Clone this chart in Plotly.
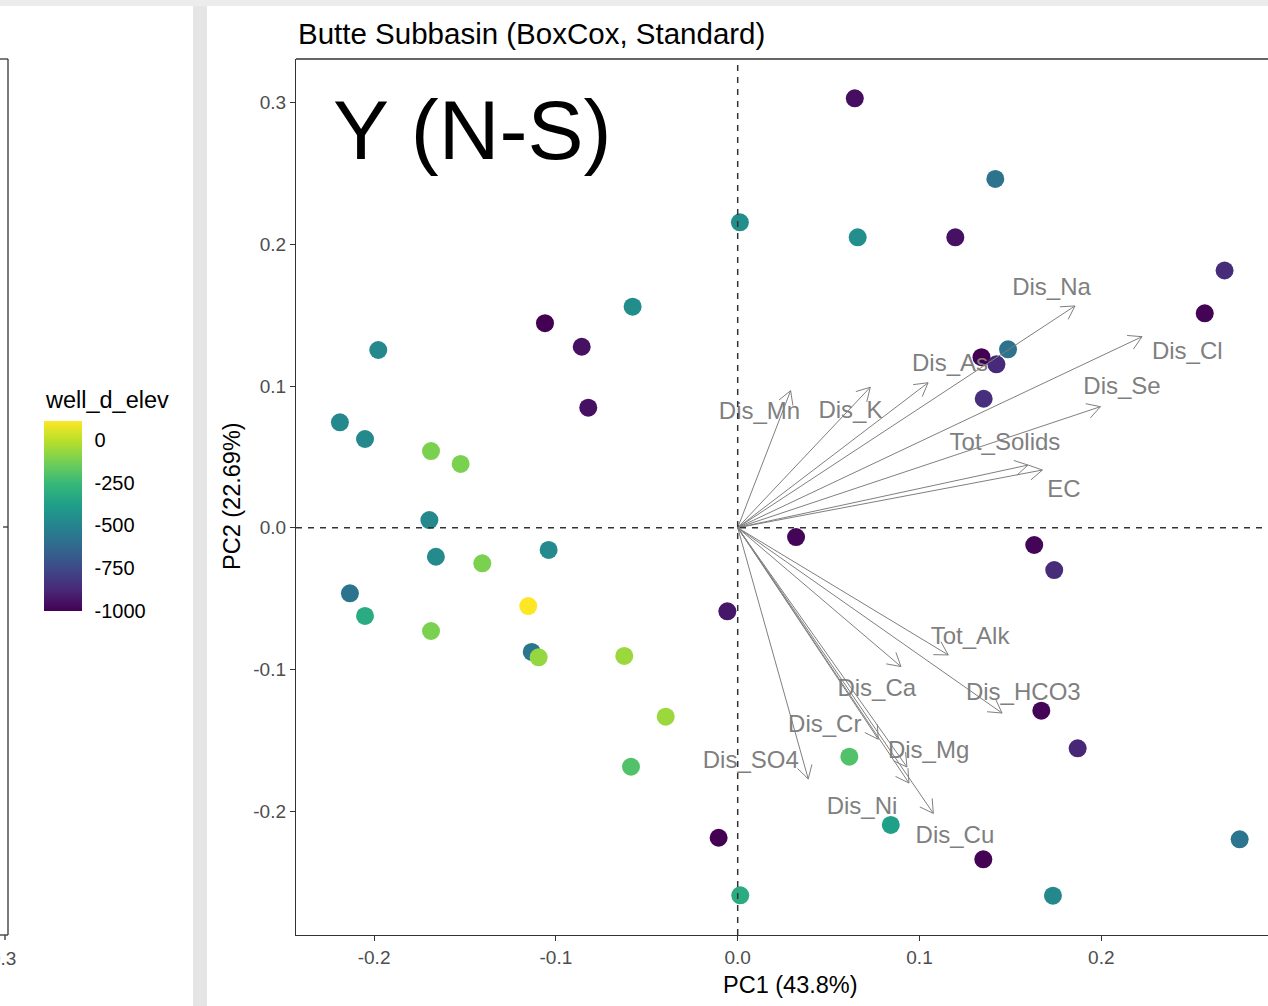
import numpy as np
import plotly.graph_objects as go

# ---- sample scores (PC1, PC2) and well depth elevation ----
pc1 = [0.0644, 0.1417, 0.0012, 0.0660, 0.1197, 0.2678, 0.2569, -0.0578, -0.1060, -0.0858,
       -0.1977, 0.1487, 0.1341, 0.1423, -0.0822, 0.1353, -0.2188, -0.2050, -0.1687, -0.1524,
       -0.1696, 0.0321, -0.1040, -0.1660, -0.1405, 0.1631, 0.1741, -0.2133, -0.2050, -0.1152,
       -0.0057, -0.1687, -0.1133, -0.1095, -0.0624, -0.0396, 0.1670, 0.1870, -0.0587, 0.0614,
       -0.0105, 0.0842, 0.1351, 0.0014, 0.1734, 0.2761]
pc2 = [0.3030, 0.2461, 0.2155, 0.2049, 0.2049, 0.1815, 0.1513, 0.1560, 0.1443, 0.1277,
       0.1254, 0.1259, 0.1203, 0.1153, 0.0847, 0.0910, 0.0744, 0.0626, 0.0541, 0.0450,
       0.0054, -0.0066, -0.0157, -0.0205, -0.0251, -0.0122, -0.0299, -0.0463, -0.0623, -0.0553,
       -0.0590, -0.0729, -0.0877, -0.0915, -0.0905, -0.1334, -0.1291, -0.1557, -0.1687, -0.1616,
       -0.2188, -0.2098, -0.2340, -0.2594, -0.2597, -0.2199]
well_d_elev = [-960, -580, -450, -450, -950, -860, -995, -460, -1000, -950,
               -480, -580, -1000, -870, -950, -850, -480, -480, -115, -115,
               -480, -990, -470, -470, -115, -990, -860, -575, -320, 110,
               -930, -115, -570, -70, -60, -60, -990, -880, -200, -200,
               -1000, -380, -995, -320, -480, -570]

# ---- variable loadings ----
var_names = ["Dis_Na", "Dis_Cl", "Dis_Se", "Tot_Solids", "EC", "Dis_As", "Dis_K", "Dis_Mn",
             "Tot_Alk", "Dis_Ca", "Dis_HCO3", "Dis_Cr", "Dis_Mg", "Dis_Ni", "Dis_Cu", "Dis_SO4"]
load_pc1 = [0.1855, 0.2224, 0.1995, 0.1597, 0.1676, 0.1047, 0.0729, 0.0291,
            0.1158, 0.0898, 0.1454, 0.0773, 0.0931, 0.0942, 0.1076, 0.0388]
load_pc2 = [0.1565, 0.1348, 0.0854, 0.0442, 0.0407, 0.1023, 0.0991, 0.0967,
            -0.0898, -0.0980, -0.1308, -0.1493, -0.1689, -0.1802, -0.2016, -0.1773]
# repelled label positions
label_pc1 = [0.1726, 0.2473, 0.2114, 0.1470, 0.1795, 0.1168, 0.0620, 0.0120,
             0.1278, 0.0765, 0.1571, 0.0479, 0.1050, 0.0684, 0.1195, 0.0072]
label_pc2 = [0.1685, 0.1231, 0.0986, 0.0591, 0.0259, 0.1148, 0.0820, 0.0809,
             -0.0781, -0.1145, -0.1176, -0.1399, -0.1581, -0.1980, -0.2181, -0.1651]

colorbar_ticks = [0, -250, -500, -750, -1000]
elev_min, elev_max = -1000, 110

# ---- page geometry ----
W, H = 1268, 1006
ML, MR, MT, MB = 296, 0, 59, 71
x_range = [-0.24296, 0.29169]
y_range = [-0.28744, 0.33077]
pw, ph = W - ML - MR, H - MT - MB
sx = pw / (x_range[1] - x_range[0])
sy = ph / (y_range[1] - y_range[0])


def paper_x(p):
    return (p - ML) / pw


def paper_y(p):
    return (H - MB - p) / ph


FONT = "Liberation Sans, Arial, sans-serif"
AXIS_COL = "#333333"
TICK_COL = "#4D4D4D"
ARROW_COL = "#7F7F7F"

# arrows from origin to each loading, with open V heads
ax, ay = [], []
head_len, head_ang = 15, np.radians(30)
for lx, ly in zip(load_pc1, load_pc2):
    ax += [0, lx, None]
    ay += [0, ly, None]
    theta = np.arctan2(ly * sy, lx * sx)
    arms = []
    for s in (1, -1):
        a = theta + np.pi + s * head_ang
        arms.append((lx + head_len * np.cos(a) / sx, ly + head_len * np.sin(a) / sy))
    ax += [arms[0][0], lx, arms[1][0], None]
    ay += [arms[0][1], ly, arms[1][1], None]

# colour bar geometry (pixels)
cb_left, cb_w, cb_top, cb_h = 44, 38, 421, 190
cb_tick = 7

fig = go.Figure()

fig.add_trace(go.Scatter(
    x=pc1, y=pc2, mode="markers",
    marker=dict(size=18, color=well_d_elev, colorscale="Viridis",
                cmin=elev_min, cmax=elev_max, line=dict(width=0),
                colorbar=dict(
                    thickness=cb_w, thicknessmode="pixels",
                    len=cb_h, lenmode="pixels",
                    x=paper_x(cb_left), xanchor="left",
                    y=paper_y(cb_top + cb_h / 2), yanchor="middle",
                    xpad=0, ypad=0, outlinewidth=0,
                    tickvals=colorbar_ticks, ticktext=[str(v) for v in colorbar_ticks],
                    ticks="outside", ticklen=9, tickwidth=1, tickcolor="white",
                    tickfont=dict(family=FONT, size=20, color="black"),
                )),
    showlegend=False, hoverinfo="skip"))

fig.add_trace(go.Scatter(
    x=ax, y=ay, mode="lines", line=dict(color=ARROW_COL, width=1),
    showlegend=False, hoverinfo="skip"))

fig.add_trace(go.Scatter(
    x=label_pc1, y=label_pc2, mode="text", text=var_names,
    textposition="middle center",
    textfont=dict(family=FONT, size=24, color=ARROW_COL),
    showlegend=False, hoverinfo="skip"))

shapes = []
# background bands between panels
shapes.append(dict(type="rect", xref="paper", yref="paper",
                   x0=paper_x(193), x1=paper_x(207), y0=paper_y(H), y1=paper_y(0),
                   fillcolor="#E5E5E5", line=dict(width=0), layer="below"))
shapes.append(dict(type="rect", xref="paper", yref="paper",
                   x0=paper_x(0), x1=paper_x(W), y0=paper_y(6), y1=paper_y(0),
                   fillcolor="#ECECEC", line=dict(width=0), layer="below"))
# neighbouring panel edge
for (x0, y0, x1, y1) in [(8, 59, 8, 935), (0, 59, 8, 59), (0, 935, 8, 935),
                         (5, 935, 5, 940), (3, 527, 8, 527)]:
    shapes.append(dict(type="line", xref="paper", yref="paper",
                       x0=paper_x(x0), x1=paper_x(x1), y0=paper_y(y0), y1=paper_y(y1),
                       line=dict(color=AXIS_COL, width=1.3)))
# top border of the main panel
shapes.append(dict(type="line", xref="paper", yref="paper", x0=0, x1=1, y0=1, y1=1,
                   line=dict(color=AXIS_COL, width=1.3)))
# dashed reference lines through the origin
shapes.append(dict(type="line", xref="paper", yref="y", x0=0, x1=1, y0=0, y1=0,
                   line=dict(color=AXIS_COL, width=1.5, dash="6px,6px"), layer="above"))
shapes.append(dict(type="line", xref="x", yref="paper", x0=0, x1=0, y0=0, y1=1,
                   line=dict(color=AXIS_COL, width=1.5, dash="6px,6px"), layer="above"))
# white ticks on both edges of the colour bar
for v in colorbar_ticks:
    py = cb_top + cb_h - (v - elev_min) / (elev_max - elev_min) * cb_h
    for (a, b) in [(cb_left, cb_left + cb_tick), (cb_left + cb_w - cb_tick, cb_left + cb_w)]:
        shapes.append(dict(type="line", xref="paper", yref="paper",
                           x0=paper_x(a), x1=paper_x(b),
                           y0=paper_y(py), y1=paper_y(py),
                           line=dict(color="white", width=1.5), layer="above"))

annotations = [
    dict(text="Butte Subbasin (BoxCox, Standard)", xref="paper", yref="paper",
         x=paper_x(296), y=paper_y(33), xanchor="left", yanchor="middle",
         showarrow=False, font=dict(family=FONT, size=29.5, color="black")),
    dict(text="Y (N-S)", xref="paper", yref="paper",
         x=paper_x(331), y=paper_y(130), xanchor="left", yanchor="middle",
         showarrow=False, font=dict(family=FONT, size=84, color="black")),
    dict(text="PC1 (43.8%)", xref="paper", yref="paper",
         x=paper_x(790), y=paper_y(985), xanchor="center", yanchor="middle",
         showarrow=False, font=dict(family=FONT, size=23.5, color="black")),
    dict(text="PC2 (22.69%)", xref="paper", yref="paper", textangle=-90,
         x=paper_x(232), y=paper_y(496), xanchor="center", yanchor="middle",
         showarrow=False, font=dict(family=FONT, size=23.5, color="black")),
    dict(text="well_d_elev", xref="paper", yref="paper",
         x=paper_x(43), y=paper_y(400), xanchor="left", yanchor="middle",
         showarrow=False, font=dict(family=FONT, size=23.5, color="black")),
    dict(text="0.3", xref="paper", yref="paper",
         x=paper_x(3), y=paper_y(958), xanchor="center", yanchor="middle",
         showarrow=False, font=dict(family=FONT, size=19, color=TICK_COL)),
    dict(text="0.3", xref="paper", yref="paper",
         x=paper_x(1284), y=paper_y(958), xanchor="center", yanchor="middle",
         showarrow=False, font=dict(family=FONT, size=19, color=TICK_COL)),
]

axis_common = dict(showgrid=False, zeroline=False, showline=True, linecolor=AXIS_COL,
                   linewidth=1.3, ticks="outside", ticklen=5, tickwidth=1.3,
                   tickcolor=AXIS_COL, tickfont=dict(family=FONT, size=19, color=TICK_COL))

fig.update_layout(
    width=W, height=H,
    margin=dict(l=ML, r=MR, t=MT, b=MB, pad=0),
    paper_bgcolor="white", plot_bgcolor="white",
    xaxis=dict(range=x_range, tickvals=[-0.2, -0.1, 0.0, 0.1, 0.2],
               ticktext=["-0.2", "-0.1", "0.0", "0.1", "0.2"], **axis_common),
    yaxis=dict(range=y_range, tickvals=[-0.2, -0.1, 0.0, 0.1, 0.2, 0.3],
               ticktext=["-0.2", "-0.1", "0.0", "0.1", "0.2", "0.3"], **axis_common),
    shapes=shapes, annotations=annotations,
    font=dict(family=FONT),
)

fig.write_html("out.html")
